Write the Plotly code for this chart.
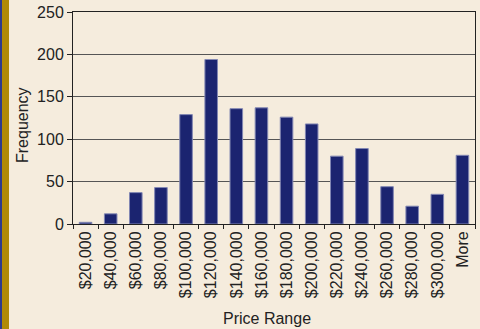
import plotly.graph_objects as go

categories = ["$20,000", "$40,000", "$60,000", "$80,000", "$100,000", "$120,000",
              "$140,000", "$160,000", "$180,000", "$200,000", "$220,000", "$240,000",
              "$260,000", "$280,000", "$300,000", "More"]
frequency = [2, 12, 37, 43, 129, 194, 136, 137, 126, 118, 80, 89, 44, 21, 35, 81]
y_ticks = [0, 50, 100, 150, 200, 250]

W, H = 480, 329
L, R, T, B = 73, 5, 12, 105
pw, ph = W - L - R, H - T - B

def px(x):
    return (x - L) / pw

def py(y):
    return (H - B - y) / ph

bg = "#f5ecdd"
font = "Liberation Sans, Arial, sans-serif"

fig = go.Figure(go.Bar(
    x=categories, y=frequency,
    marker=dict(color="#1b2470", line=dict(color="#8287b3", width=1)),
))

fig.update_layout(
    width=W, height=H,
    margin=dict(l=L, r=R, t=T, b=B),
    paper_bgcolor=bg, plot_bgcolor=bg,
    bargap=0.5,
    showlegend=False,
    font=dict(family=font, size=16, color="#222222"),
    xaxis=dict(
        type="category", tickangle=-90, ticks="outside", tickson="boundaries",
        ticklen=4, tickcolor="#222222", showline=True, linecolor="#222222",
        linewidth=1, mirror=True, showgrid=False,
        tickfont=dict(size=16, color="#222222"),
    ),
    yaxis=dict(
        range=[0, 250], tickvals=y_ticks, ticks="outside", ticklen=5,
        tickcolor="#222222", showline=True, linecolor="#222222", linewidth=1,
        mirror=True, showgrid=True, gridcolor="#555555", gridwidth=1,
        zeroline=False, tickfont=dict(size=16, color="#222222"),
    ),
    shapes=[
        dict(type="rect", xref="paper", yref="paper",
             x0=px(0), x1=px(2), y0=py(H), y1=py(0),
             fillcolor="#2d3a8c", line=dict(width=0), layer="above"),
        dict(type="rect", xref="paper", yref="paper",
             x0=px(2), x1=px(9), y0=py(H), y1=py(0),
             fillcolor="#b08a06", line=dict(width=0), layer="above"),
    ],
    annotations=[
        dict(text="Price Range", xref="paper", yref="paper", x=px(267), y=py(318),
             xanchor="center", yanchor="middle", showarrow=False,
             font=dict(size=16, color="#222222")),
        dict(text="Frequency", xref="paper", yref="paper", x=px(23), y=py(125),
             xanchor="center", yanchor="middle", textangle=-90, showarrow=False,
             font=dict(size=16, color="#222222")),
    ],
)

fig.write_html("out.html")
